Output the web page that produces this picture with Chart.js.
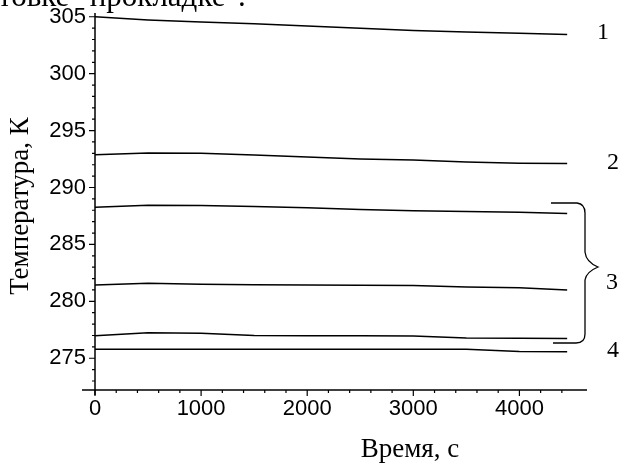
<!DOCTYPE html>
<html>
<head>
<meta charset="utf-8">
<script src="https://cdn.jsdelivr.net/npm/chart.js@4/dist/chart.umd.min.js"></script>
<style>
  html, body { margin: 0; padding: 0; background: #fff; }
  canvas { display: block; }
</style>
</head>
<body>
<canvas id="tempChart" width="621" height="463"></canvas>
<script>
// Time points, s
const times = [0, 500, 1000, 1500, 2000, 2500, 3000, 3500, 4000, 4450];

// Temperature curves, K
const curve1 = [305.0, 304.72, 304.53, 304.38, 304.18, 304.0, 303.8, 303.65, 303.55, 303.45];
const curve2 = [292.88, 293.04, 293.0, 292.85, 292.68, 292.5, 292.42, 292.25, 292.14, 292.1];
const curve3a = [288.27, 288.44, 288.42, 288.33, 288.22, 288.07, 287.95, 287.9, 287.82, 287.72];
const curve3b = [281.43, 281.58, 281.5, 281.45, 281.43, 281.42, 281.4, 281.26, 281.2, 281.0];
const curve3c = [276.97, 277.23, 277.2, 277.0, 276.97, 276.97, 276.95, 276.78, 276.75, 276.74];
const curve4 = [275.8, 275.8, 275.8, 275.8, 275.8, 275.8, 275.8, 275.79, 275.6, 275.56];

// Axis ticks
const xMajorTicks = [0, 1000, 2000, 3000, 4000];
const xMinorTicks = [200, 400, 600, 800, 1200, 1400, 1600, 1800, 2200, 2400, 2600, 2800,
                     3200, 3400, 3600, 3800, 4200, 4400];
const yMajorTicks = [275, 280, 285, 290, 295, 300, 305];
const yMinorTicks = [273, 274, 276, 277, 278, 279, 281, 282, 283, 284, 286, 287, 288, 289,
                     291, 292, 293, 294, 296, 297, 298, 299, 301, 302, 303, 304];

// Curve numbers on the right
const curveLabels = ['1', '2', '3', '4'];
const curveLabelY = [303.6, 292.2, 281.6, 275.7];

const serif = '"Liberation Serif", "Times New Roman", serif';
const tickFont = '"Liberation Sans", Arial, sans-serif';

function toPoints(values) {
    return times.map((t, i) => ({ x: t, y: values[i] }));
}

// Force exact tick values and drop the label overflow padding
function fixedTicks(values) {
    return scale => { scale.ticks = values.map(v => ({ value: v })); };
}

// Draws axes, tick marks, titles, curve numbers and the brace
const decorPlugin = {
    id: 'decor',
    afterDraw(chart) {
        const ctx = chart.ctx;
        const xs = chart.scales.x;
        const ys = chart.scales.y;
        const x0 = xs.getPixelForValue(0);
        const yBase = ys.bottom;

        ctx.save();
        ctx.strokeStyle = '#000';
        ctx.fillStyle = '#000';
        ctx.lineWidth = 1.5;

        // axis lines
        ctx.beginPath();
        ctx.moveTo(x0 - 13, yBase);
        ctx.lineTo(xs.right, yBase);
        ctx.moveTo(x0, ys.top);
        ctx.lineTo(x0, yBase + 5);
        ctx.stroke();

        ctx.lineWidth = 1.2;
        ctx.beginPath();
        xMajorTicks.forEach(v => {
            const px = xs.getPixelForValue(v);
            ctx.moveTo(px, yBase);
            ctx.lineTo(px, yBase + 6);
        });
        xMinorTicks.forEach(v => {
            const px = xs.getPixelForValue(v);
            ctx.moveTo(px, yBase);
            ctx.lineTo(px, yBase + 3);
        });
        yMajorTicks.forEach(v => {
            const py = ys.getPixelForValue(v);
            ctx.moveTo(x0, py);
            ctx.lineTo(x0 - 6, py);
        });
        yMinorTicks.forEach(v => {
            const py = ys.getPixelForValue(v);
            ctx.moveTo(x0, py);
            ctx.lineTo(x0 - 3, py);
        });
        ctx.stroke();

        // brace around group 3
        ctx.lineWidth = 1.3;
        ctx.beginPath();
        ctx.moveTo(551, 203);
        ctx.lineTo(577, 203);
        ctx.quadraticCurveTo(585, 204, 585, 213);
        ctx.lineTo(585, 252);
        ctx.quadraticCurveTo(586, 262, 598, 267);
        ctx.quadraticCurveTo(586, 272, 585, 280);
        ctx.lineTo(585, 334);
        ctx.quadraticCurveTo(585, 343, 576, 343);
        ctx.lineTo(553, 343);
        ctx.stroke();

        // curve numbers
        ctx.font = '24px ' + serif;
        ctx.textAlign = 'center';
        ctx.textBaseline = 'middle';
        const labelX = [603, 613, 612, 613];
        curveLabels.forEach((txt, i) => {
            ctx.fillText(txt, labelX[i], ys.getPixelForValue(curveLabelY[i]));
        });

        // axis titles
        ctx.font = '27px ' + serif;
        ctx.fillText('Время, с', 410, 450);
        ctx.save();
        ctx.translate(21, 206);
        ctx.rotate(-Math.PI / 2);
        ctx.fillText('Температура, К', 0, 0);
        ctx.restore();

        // cut-off line of text above the figure
        ctx.font = '31px ' + serif;
        ctx.textAlign = 'left';
        ctx.textBaseline = 'alphabetic';
        ctx.fillText('товке "прокладке".', -2, 6);

        ctx.restore();
    }
};

function initializeChart() {
    const ctx = document.getElementById('tempChart').getContext('2d');
    const lineStyle = { borderColor: '#000', borderWidth: 1.5, pointRadius: 0, tension: 0, fill: false };

    new Chart(ctx, {
        type: 'line',
        data: {
            datasets: [
                { label: '1', data: toPoints(curve1), ...lineStyle },
                { label: '2', data: toPoints(curve2), ...lineStyle },
                { label: '3a', data: toPoints(curve3a), ...lineStyle },
                { label: '3b', data: toPoints(curve3b), ...lineStyle },
                { label: '3c', data: toPoints(curve3c), ...lineStyle },
                { label: '4', data: toPoints(curve4), ...lineStyle }
            ]
        },
        options: {
            responsive: false,
            animation: false,
            layout: { padding: { left: 0, top: 13, right: 34, bottom: 0 } },
            plugins: {
                legend: { display: false },
                tooltip: { enabled: false }
            },
            scales: {
                x: {
                    type: 'linear',
                    min: 0,
                    max: 4637,
                    grid: { display: false, drawTicks: false },
                    border: { display: false },
                    ticks: {
                        maxRotation: 0,
                        autoSkip: false,
                        padding: 6,
                        color: '#000',
                        font: { family: tickFont, size: 22 },
                        callback: v => String(v)
                    },
                    afterBuildTicks: fixedTicks(xMajorTicks),
                    afterFit: scale => {
                        scale.height = 73;
                        scale.paddingLeft = 0;
                        scale.paddingRight = 0;
                    }
                },
                y: {
                    min: 272.21,
                    max: 305.33,
                    grid: { display: false, drawTicks: false },
                    border: { display: false },
                    ticks: {
                        padding: 9,
                        color: '#000',
                        font: { family: tickFont, size: 22 },
                        callback: v => String(v)
                    },
                    afterBuildTicks: fixedTicks(yMajorTicks),
                    afterFit: scale => {
                        scale.width = 95;
                        scale.paddingTop = 0;
                        scale.paddingBottom = 0;
                    }
                }
            }
        },
        plugins: [decorPlugin]
    });
}

document.addEventListener('DOMContentLoaded', initializeChart);
</script>
</body>
</html>
